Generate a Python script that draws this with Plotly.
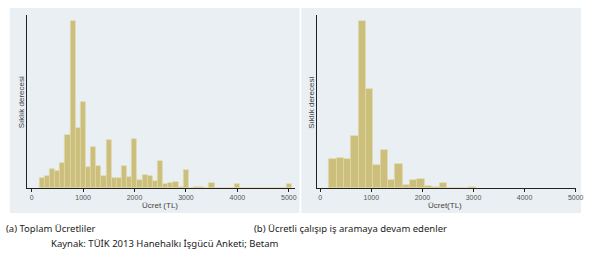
import plotly.graph_objects as go

# ---- data (relative frequencies) ----
left_bin_start = 150
left_bin_width = 100
left_heights = [10.3, 12.3, 19, 17.3, 24.7, 53, 167.3, 59.7, 85.7, 21.3,
                41.3, 22.3, 12.3, 48, 10.3, 10.3, 22, 11.3, 49, 8.5,
                13.3, 12.3, 7, 27, 4, 4.7, 5.8, 1.5, 18, 0.3,
                1, 0.8, 0, 5.3, 0, 0, 0, 0, 4, 0,
                0, 0, 0, 0, 0, 0, 0, 0, 3.8]

right_bin_start = 170
right_bin_width = 144
right_heights = [29.3, 30.5, 29.5, 52, 167.5, 99, 23, 38, 8.5, 24,
                 3, 8.3, 9, 2, 0.8, 5.5, 0, 0, 0, 1.3]

x_ticks = [0, 1000, 2000, 3000, 4000, 5000]
left_xtitle = "Ücret (TL)"
right_xtitle = "Ücret(TL)"
ytitle = "Sıklık derecesi"
caption_a = "(a) Toplam Ücretliler"
caption_b = "(b) Ücretli çalışıp iş aramaya devam edenler"
source = "Kaynak: TÜİK 2013 Hanehalkı İşgücü Anketi; Betam"

W, H = 600, 259
BAR = "rgb(204,191,124)"
BAR_LINE = "rgb(226,218,170)"
PANEL = "#e9eff2"
TICKFONT = dict(family="Liberation Sans Narrow, Liberation Sans, sans-serif", size=7, color="#555")

def px(x):
    return x / W

def py(y):
    return 1 - y / H

left_x = [left_bin_start + i * left_bin_width for i in range(len(left_heights))]
right_x = [right_bin_start + i * right_bin_width for i in range(len(right_heights))]

fig = go.Figure()
fig.add_trace(go.Bar(x=left_x, y=left_heights, width=left_bin_width, offset=0,
                     marker=dict(color=BAR, line=dict(color=BAR_LINE, width=0.6)),
                     xaxis="x", yaxis="y", showlegend=False, hoverinfo="skip"))
fig.add_trace(go.Bar(x=right_x, y=right_heights, width=right_bin_width, offset=0,
                     marker=dict(color=BAR, line=dict(color=BAR_LINE, width=0.6)),
                     xaxis="x2", yaxis="y2", showlegend=False, hoverinfo="skip"))

ymax = max(left_heights) * 1.035
ymax2 = max(right_heights) * 1.035

xaxis_common = dict(tickvals=x_ticks, ticks="outside", ticklen=3, tickcolor="#222",
                    showline=True, linecolor="#222", linewidth=1, showgrid=False,
                    zeroline=False, tickfont=TICKFONT, fixedrange=True)
yaxis_common = dict(showline=True, linecolor="#222", linewidth=1, showgrid=False,
                    zeroline=False, showticklabels=False, ticks="", fixedrange=True)

fig.update_layout(
    width=W, height=H, margin=dict(l=0, r=0, t=0, b=0),
    paper_bgcolor="white", plot_bgcolor="white", bargap=0,
    xaxis=dict(domain=[px(27), px(298)], range=[-96, 5111], anchor="y", **xaxis_common),
    yaxis=dict(domain=[py(188), py(15)], range=[0, ymax], anchor="x", **yaxis_common),
    xaxis2=dict(domain=[px(320.5), px(583)], range=[-68, 5010], anchor="y2", **xaxis_common),
    yaxis2=dict(domain=[py(188), py(15)], range=[0, ymax2], anchor="x2", **yaxis_common),
    shapes=[
        dict(type="rect", xref="paper", yref="paper", x0=px(10), x1=px(303), y0=py(213), y1=py(8),
             fillcolor=PANEL, line=dict(width=0), layer="below"),
        dict(type="rect", xref="paper", yref="paper", x0=px(305), x1=px(588), y0=py(213), y1=py(8),
             fillcolor=PANEL, line=dict(width=0), layer="below"),
    ],
)

ann_font = dict(family="Liberation Sans Narrow, Liberation Sans, sans-serif", size=8, color="#444")
cap_font = dict(family="Noto Sans, sans-serif", size=9.5, color="#222")
annotations = [
    dict(text=left_xtitle, x=px(162), y=py(205.5), xanchor="center", yanchor="middle", font=ann_font),
    dict(text=right_xtitle, x=px(450), y=py(205.5), xanchor="center", yanchor="middle", font=ann_font),
    dict(text=ytitle, x=px(21.5), y=py(102), xanchor="center", yanchor="middle", textangle=-90, font=ann_font),
    dict(text=ytitle, x=px(314.5), y=py(103), xanchor="center", yanchor="middle", textangle=-90, font=ann_font),
    dict(text=caption_a, x=px(4), y=py(228), xanchor="left", yanchor="middle", font=cap_font),
    dict(text=caption_b, x=px(255), y=py(228), xanchor="left", yanchor="middle", font=cap_font),
    dict(text=source, x=px(50), y=py(243), xanchor="left", yanchor="middle", font=cap_font),
]
for a in annotations:
    a.update(xref="paper", yref="paper", showarrow=False)
fig.update_layout(annotations=annotations)

fig.write_html("out.html")
